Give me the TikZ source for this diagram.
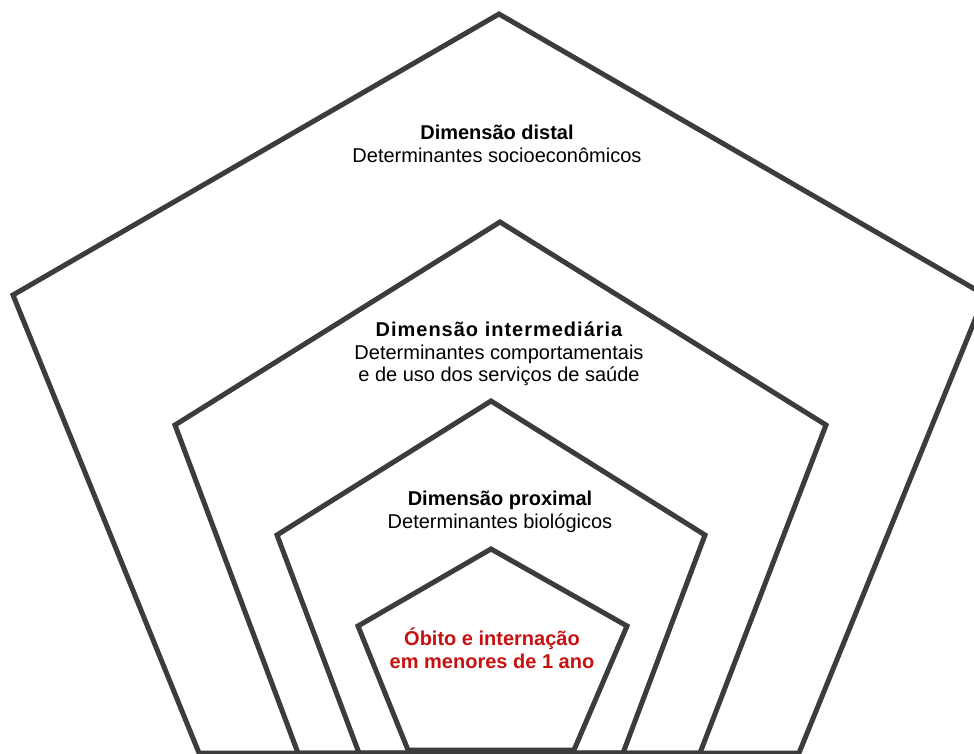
\documentclass[tikz,border=0pt]{standalone}
\usepackage{fontspec}
\setmainfont{Liberation Sans}
\definecolor{edge}{RGB}{60,60,60}
\definecolor{alvo}{RGB}{200,16,16}
\tikzset{
  penta/.style={draw=edge,line width=5pt,line join=miter},
  dim/.style={align=center,font=\fontsize{20}{22.5}\selectfont}
}
\begin{document}
\begin{tikzpicture}[x=1pt,y=-1pt]
  \useasboundingbox (0,0) rectangle (974,753);
  \clip (0,0) rectangle (974,753);
  \fill[white] (0,0) rectangle (974,753);
  \draw[penta] (499,14)--(985,295)--(799,753)--(199,753)--(13,295)--cycle;
  \draw[penta] (500,222)--(826,425)--(700,753)--(298,753)--(175,425)--cycle;
  \draw[penta] (491,401)--(705,535)--(623,753)--(359,753)--(277,535)--cycle;
  \draw[penta] (491,549)--(627,626)--(574,750)--(408,750)--(358,626)--cycle;
  \node[dim] (distal) at (497,144) {\textbf{Dimensão distal}\\Determinantes socioeconômicos};
  \node[dim] (interm) at (499,354) {{\bfseries\addfontfeature{LetterSpace=5}Dimensão intermediária}\\Determinantes comportamentais\\e de uso dos serviços de saúde};
  \node[dim] (proximal) at (500,512) {\textbf{Dimensão proximal}\\Determinantes biológicos};
  \node[dim,text=alvo,font=\fontsize{20}{22.5}\selectfont\bfseries] (obito) at (492,648) {Óbito e internação\\em menores de 1 ano};
\end{tikzpicture}
\end{document}
